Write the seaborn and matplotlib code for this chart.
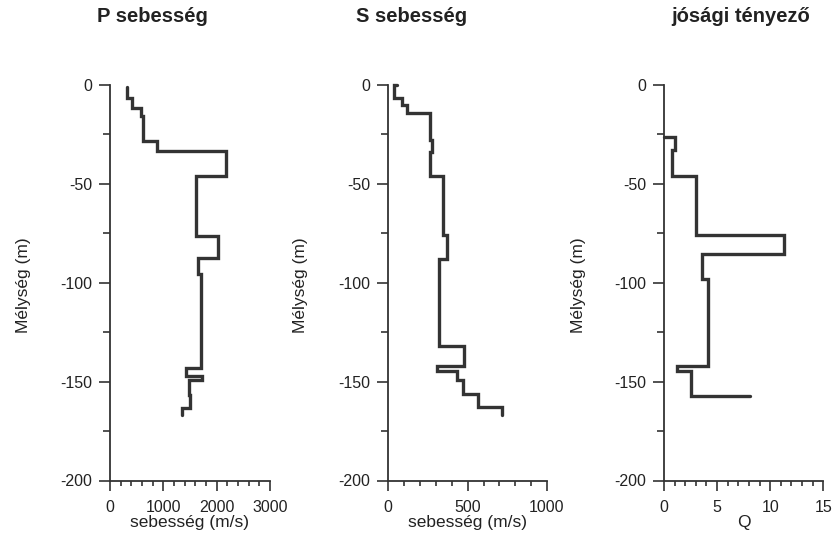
import numpy as np
import pandas as pd
import matplotlib
matplotlib.use("Agg")
import matplotlib.pyplot as plt
from matplotlib.ticker import MultipleLocator
import seaborn as sns

# P-wave velocity profile: layer boundaries (m) and layer velocities (m/s)
p_bounds = [-1, -6.9, -12, -15.9, -28.3, -33.7, -46, -76.4, -87.7, -95.5,
            -143, -147, -149.2, -157, -163.5, -167]
p_vel = [313, 419, 575, 613, 887, 2181, 1612, 2019, 1656, 1700,
         1431, 1719, 1475, 1500, 1344]

# S-wave velocity profile
s_lead = 57
s_bounds = [0, -6.9, -10.3, -14.5, -28, -34, -45.9, -76.1, -87.9, -131.8,
            -142.3, -144.8, -149.2, -156.3, -163, -166.9]
s_vel = [36, 84, 116, 262, 275, 262, 347, 372, 321, 477, 305, 431, 473, 567, 714]

# Quality factor profile
q_lead = 0
q_bounds = [-26.3, -33.1, -45.9, -76.1, -85.4, -98.4, -141.9, -144.5, -157.5]
q_vals = [1.04, 0.72, 2.98, 11.3, 3.55, 4.17, 1.25, 2.5]
q_tail = 8.1

titles = ["P sebesség", "S sebesség", "jósági tényező"]
xlabels = ["sebesség (m/s)", "sebesség (m/s)", "Q"]
ylabel = "Mélység (m)"


def step_profile(bounds, values, lead=None, tail=None):
    xs, ys = [], []
    if lead is not None:
        xs.append(lead)
        ys.append(bounds[0])
    for i, v in enumerate(values):
        xs += [v, v]
        ys += [bounds[i], bounds[i + 1]]
    if tail is not None:
        xs.append(tail)
        ys.append(bounds[-1])
    return pd.DataFrame({"value": xs, "depth": ys})


sns.set_theme(style="ticks")
plt.rcParams["font.family"] = ["Liberation Sans", "DejaVu Sans"]
plt.rcParams["axes.unicode_minus"] = False

ink = "#333333"
txt = "#222222"
fig = plt.figure(figsize=(8.36, 5.35), dpi=100)
W, H = 836, 535

panels = [
    dict(left=110, width=160, xmax=3000, major=1000, minor=200,
         df=step_profile(p_bounds, p_vel), title_x=152, ylab_x=24),
    dict(left=388.3, width=158.7, xmax=1000, major=500, minor=100,
         df=step_profile(s_bounds, s_vel, lead=s_lead), title_x=412, ylab_x=301),
    dict(left=664, width=159.3, xmax=15, major=5, minor=1,
         df=step_profile(q_bounds, q_vals, lead=q_lead, tail=q_tail), title_x=741, ylab_x=578),
]

top_px, bot_px = 84.7, 480.5
for i, p in enumerate(panels):
    ax = fig.add_axes([p["left"] / W, (H - bot_px) / H, p["width"] / W, (bot_px - top_px) / H])
    sns.lineplot(data=p["df"], x="value", y="depth", sort=False, estimator=None,
                 ax=ax, color=ink, linewidth=2.4)
    for ln in ax.lines:
        ln.set_clip_on(False)
        ln.set_solid_joinstyle("miter")
    ax.set_xlim(0, p["xmax"])
    ax.set_ylim(-200, 0)
    ax.xaxis.set_major_locator(MultipleLocator(p["major"]))
    ax.xaxis.set_minor_locator(MultipleLocator(p["minor"]))
    ax.yaxis.set_major_locator(MultipleLocator(50))
    ax.yaxis.set_minor_locator(MultipleLocator(25))
    for side in ("top", "right"):
        ax.spines[side].set_visible(False)
    for side in ("left", "bottom"):
        ax.spines[side].set_color(ink)
        ax.spines[side].set_linewidth(1.3)
    ax.tick_params(axis="both", which="both", direction="out", colors=ink,
                   width=1.2, labelsize=11.5, labelcolor=txt)
    ax.tick_params(axis="y", which="major", length=8, pad=5)
    ax.tick_params(axis="y", which="minor", length=5)
    ax.tick_params(axis="x", which="major", length=7, pad=7)
    ax.tick_params(axis="x", which="minor", length=3.5)
    ax.set_xlabel(xlabels[i], fontsize=12.5, color=txt, labelpad=0)
    ax.set_ylabel("")
    ax.patch.set_alpha(0)
    fig.text(p["title_x"] / W, 1 - 17 / H, titles[i], ha="center", va="center",
             fontsize=14.5, fontweight="bold", color=txt)
    fig.text(p["ylab_x"] / W, 1 - 285 / H, ylabel, ha="center", va="center",
             rotation=90, fontsize=12.5, color=txt)

fig.savefig("out.png", dpi=100, facecolor="white")
